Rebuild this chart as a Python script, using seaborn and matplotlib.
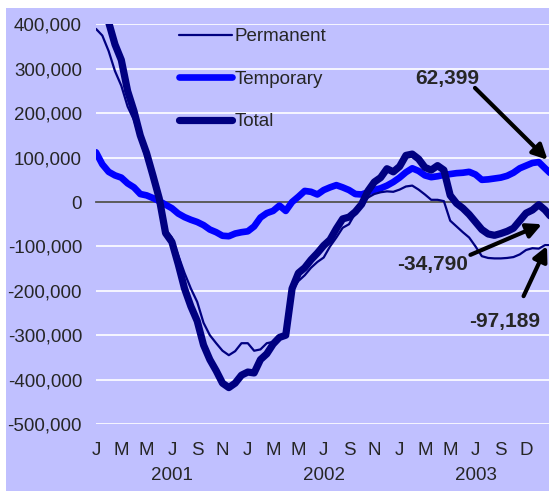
import numpy as np
import pandas as pd
import seaborn as sns
import matplotlib.pyplot as plt
from matplotlib.patches import Rectangle
from matplotlib.transforms import blended_transform_factory

# semi-monthly points, months since Jan 2001
months = np.arange(0, 36.5, 0.5)

# values in thousands
permanent = [390, 375, 340, 295, 262, 215, 185, 140, 95, 50,
             5, -62, -80, -120, -160, -195, -225, -272, -300, -318,
             -335, -345, -336, -318, -318, -335, -332, -318, -315, -300,
             -298, -200, -178, -165, -148, -135, -125, -100, -80, -58,
             -50, -25, -10, 10, 18, 22, 24, 23, 28, 35,
             37, 28, 17, 5, 5, 2, -42, -55, -68, -80,
             -100, -122, -126, -127, -127, -126, -124, -118, -108, -104,
             -105, -97, -97.189]
temporary = [112, 85, 68, 60, 55, 42, 33, 18, 15, 9,
             2, -6, -14, -26, -34, -40, -45, -52, -62, -68,
             -76, -77, -71, -68, -66, -55, -35, -25, -20, -8,
             -20, 0, 12, 25, 23, 17, 27, 33, 38, 33,
             27, 18, 17, 22, 27, 31, 37, 45, 55, 67,
             76, 70, 60, 56, 58, 61, 63, 65, 66, 68,
             62, 50, 51, 53, 55, 59, 66, 76, 82, 88,
             90, 76, 62.399]
total = [500, 450, 405, 355, 320, 250, 205, 150, 110, 60,
         8, -70, -90, -140, -195, -235, -268, -322, -355, -380,
         -408, -418, -408, -390, -383, -385, -355, -342, -320, -305,
         -300, -195, -160, -148, -130, -115, -98, -85, -60, -38,
         -34, -22, -5, 25, 45, 55, 75, 68, 80, 105,
         108, 97, 78, 72, 82, 72, 15, -3, -14, -28,
         -45, -62, -72, -75, -71, -66, -59, -42, -25, -18,
         -6, -18, -34.79]

month_ticks = np.arange(0, 36, 2)
month_labels = ['J', 'M', 'M', 'J', 'S', 'N', 'J', 'M', 'M', 'J', 'S', 'N',
                'J', 'M', 'M', 'J', 'S', 'D']
years = ['2001', '2002', '2003']
year_pos = [6, 18, 30]

df = pd.DataFrame({'month': months,
                   'Permanent': np.array(permanent) * 1000,
                   'Temporary': np.array(temporary) * 1000,
                   'Total': np.array(total) * 1000})

lavender = '#C0C0FF'
fs = 13.5
sns.set_style('white')
plt.rcParams['font.family'] = ['Liberation Sans', 'DejaVu Sans']
plt.rcParams['lines.solid_capstyle'] = 'round'
plt.rcParams['lines.solid_joinstyle'] = 'round'

fig = plt.figure(figsize=(5.49, 4.91), dpi=100)
fig.patch.set_facecolor('white')
fig.add_artist(Rectangle((6 / 549, 0), 1, 1 - 8 / 491, transform=fig.transFigure,
                         facecolor=lavender, edgecolor='none', zorder=-5))
ax = fig.add_axes([96 / 549, 1 - 424 / 491, 453 / 549, 400 / 491])
ax.set_facecolor(lavender)

sns.lineplot(data=df, x='month', y='Permanent', ax=ax, color='#000080', linewidth=1.6,
             label='Permanent', zorder=3)
sns.lineplot(data=df, x='month', y='Temporary', ax=ax, color='#0000FF', linewidth=4.8,
             label='Temporary', zorder=2)
sns.lineplot(data=df, x='month', y='Total', ax=ax, color='#000080', linewidth=5.2,
             label='Total', zorder=4)

ax.set_xlim(0, 453 / 12.65)
ax.set_ylim(-500000, 401000)
ax.set_yticks(np.arange(-500000, 400001, 100000))
ax.set_yticklabels([f'{v:,}' for v in range(-500000, 400001, 100000)], fontsize=fs)
ax.tick_params(axis='y', length=0, pad=10)
ax.yaxis.grid(True, color='white', linewidth=1.2)
ax.set_axisbelow(True)
for s in ['left', 'right', 'top']:
    ax.spines[s].set_visible(False)
ax.spines['bottom'].set_position(('data', 0))
ax.spines['bottom'].set_color('#404040')
ax.spines['bottom'].set_linewidth(1.2)
ax.spines['bottom'].set_zorder(1)
ax.set_xticks(month_ticks)
ax.tick_params(axis='x', direction='out', length=5, width=1.2, color='#404040',
               labelbottom=False)
ax.set_xlabel('')
ax.set_ylabel('')

sec = ax.secondary_xaxis('bottom')
sec.set_xticks(month_ticks)
sec.set_xticklabels(month_labels, fontsize=fs)
sec.tick_params(length=0, pad=13)
sec.spines['bottom'].set_visible(False)

tr = blended_transform_factory(ax.transData, ax.transAxes)
for y, p in zip(years, year_pos):
    ax.text(p, -0.128, y, transform=tr, ha='center', va='center', fontsize=fs)

leg = ax.legend(loc='upper left', bbox_to_anchor=(179 / 549, 1 - 28 / 491),
                bbox_transform=fig.transFigure, frameon=False, fontsize=fs,
                handlelength=2.8, handletextpad=0.15, labelspacing=1.36,
                borderpad=0, borderaxespad=0)

arrow = dict(arrowstyle='-|>', color='black', lw=3, mutation_scale=22, shrinkA=0, shrinkB=0)
ax.annotate('', xy=(35.7, 95000), xytext=(29.96, 257000), arrowprops=arrow, annotation_clip=False)
ax.text(27.75, 279000, '62,399', ha='center', va='center', fontsize=15, fontweight='bold')
ax.annotate('', xy=(35.25, -50000), xytext=(29.6, -119000), arrowprops=arrow, annotation_clip=False)
ax.text(26.6, -140000, '-34,790', ha='center', va='center', fontsize=15, fontweight='bold')
ax.annotate('', xy=(35.65, -99000), xytext=(33.8, -212000), arrowprops=arrow, annotation_clip=False)
ax.text(32.3, -268000, '-97,189', ha='center', va='center', fontsize=15, fontweight='bold')

fig.savefig('out.png', dpi=100, facecolor=fig.get_facecolor())
